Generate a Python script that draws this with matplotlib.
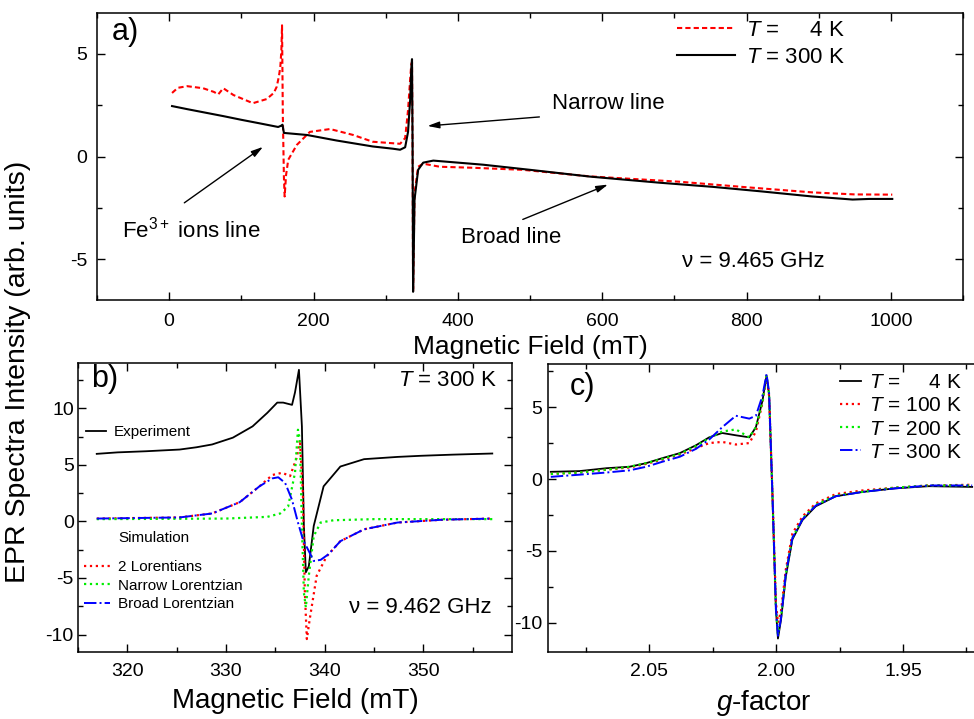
import numpy as np
import matplotlib
matplotlib.use("Agg")
import matplotlib.pyplot as plt
from matplotlib.ticker import MultipleLocator, FormatStrFormatter

plt.rcParams['font.family'] = ['Liberation Sans', 'DejaVu Sans']
plt.rcParams['mathtext.fontset'] = 'custom'
plt.rcParams['mathtext.rm'] = 'Liberation Sans'
plt.rcParams['mathtext.it'] = 'Liberation Sans:italic'
plt.rcParams['axes.unicode_minus'] = False

# --- a) wide scan, 4 K and 300 K ---
field_4k = [4, 12, 25, 47, 62, 68, 75, 89, 116, 135, 145, 149, 152, 154, 155.5, 156.4,
            157.5, 159, 160, 162, 165, 177, 195, 223, 255, 282, 320, 327, 331, 334,
            335.5, 336.5, 337.3, 338, 339, 340, 345, 352, 375, 421, 490, 583, 707,
            800, 891, 950, 1002]
epr_4k = [3.1, 3.35, 3.43, 3.33, 3.15, 3.03, 3.33, 3.0, 2.6, 2.8, 3.1, 3.4, 3.9, 4.36,
          5.2, 6.4, 2.0, -1.0, -1.95, -0.9, -0.16, 0.57, 1.2, 1.34, 1.05, 0.72, 0.62,
          0.9, 2.26, 3.8, 4.5, 4.6, 0.3, -6.6, -4.3, -1.8, -0.5, -0.35, -0.5, -0.55,
          -0.65, -0.97, -1.23, -1.5, -1.75, -1.85, -1.86]

field_300k = [4, 25, 50, 75, 100, 125, 151, 155, 157, 159, 175, 191, 232, 282, 310, 320,
              327, 331, 334, 335.5, 336.5, 337.3, 338, 339, 340, 345, 352, 366, 435,
              500, 583, 615, 680, 753, 820, 891, 947, 970, 1002]
epr_300k = [2.46, 2.31, 2.14, 1.97, 1.79, 1.62, 1.44, 1.5, 1.55, 1.15, 1.1, 1.05, 0.78,
            0.49, 0.38, 0.33, 0.45, 1.2, 2.8, 4.3, 4.75, 0.5, -6.6, -4.5, -2.1, -0.65,
            -0.3, -0.2, -0.4, -0.65, -0.98, -1.08, -1.28, -1.48, -1.7, -1.95, -2.1,
            -2.07, -2.07]

# --- b) narrow line at 300 K with two-Lorentzian fit ---
exp_field = [316.9, 319, 321.9, 325.3, 327, 328.6, 330.7, 332.7, 334.2, 335.2, 335.8,
             336.7, 337.0, 337.4, 337.7, 337.9, 338.1, 338.4, 338.9, 339.9, 341.6, 344.0,
             347.4, 349.8, 353, 357]
exp_epr = [5.97, 6.1, 6.2, 6.35, 6.55, 6.8, 7.4, 8.4, 9.6, 10.5, 10.5, 10.3, 11.4, 13.4,
           8.4, -0.4, -4.5, -3.97, -0.4, 3.1, 4.85, 5.5, 5.7, 5.8, 5.9, 6.0]

sum_field = [316.9, 325.3, 328.6, 331.4, 333.4, 334.7, 335.7, 336.5, 337.2, 337.5, 337.8,
             338.0, 338.2, 338.5, 339.2, 340.2, 341.6, 344.0, 347.4, 352, 357]
sum_epr = [0.25, 0.35, 0.7, 1.7, 3.1, 4.1, 4.3, 4.0, 5.7, 7.2, 2.5, -6.3, -10.4, -8.6,
           -4.8, -3.1, -1.75, -0.7, -0.1, 0.15, 0.25]

narrow_field = [316.9, 330, 334.2, 335.5, 336.3, 337.0, 337.3, 337.5, 337.7, 337.9, 338.1,
                338.4, 338.9, 339.6, 340.9, 345, 357]
narrow_epr = [0.2, 0.25, 0.4, 0.7, 1.3, 4.3, 8.1, 7.2, -0.4, -6.3, -7.6, -4.8, -1.3,
              -0.1, 0.1, 0.2, 0.2]

broad_field = [316.9, 325.3, 328.6, 331.4, 333.4, 334.7, 335.3, 336.0, 336.7, 337.3, 337.8,
               338.5, 338.9, 339.6, 340.4, 341.6, 344.0, 347.4, 352, 357]
broad_epr = [0.25, 0.35, 0.7, 1.7, 3.1, 3.8, 3.9, 3.4, 1.9, -0.1, -1.6, -2.8, -3.5, -3.4,
             -2.9, -1.75, -0.7, -0.1, 0.15, 0.25]

# --- c) narrow line vs g-factor at four temperatures ---
g_factor = [2.0889, 2.0776, 2.067, 2.0579, 2.0513, 2.0449, 2.038, 2.0316, 2.0264, 2.0213,
            2.0159, 2.0106, 2.008, 2.0054, 2.0038, 2.0028, 2.0015, 2.0001, 1.9993, 1.9981,
            1.9962, 1.9936, 1.9896, 1.9844, 1.9765, 1.966, 1.953, 1.9398, 1.9227]
g_4k = [0.5, 0.55, 0.75, 0.85, 1.1, 1.45, 1.8, 2.35, 2.9, 3.2, 3.04, 2.9, 3.6, 5.45, 7.2,
        5.9, -1.0, -9.1, -11.1, -9.8, -6.8, -4.2, -2.85, -1.9, -1.2, -0.9, -0.65, -0.5, -0.55]
g_100k = [0.35, 0.45, 0.65, 0.8, 1.05, 1.35, 1.7, 2.15, 2.5, 2.58, 2.4, 2.5, 3.3, 5.3, 7.1,
          5.8, -0.8, -8.6, -10.0, -9.2, -6.3, -3.8, -2.6, -1.7, -1.05, -0.8, -0.6, -0.45, -0.4]
g_200k = [0.35, 0.45, 0.65, 0.85, 1.1, 1.4, 1.75, 2.3, 2.85, 3.3, 3.45, 2.9, 3.6, 5.4, 7.2,
          5.9, -0.9, -9.0, -10.8, -9.6, -6.6, -4.1, -2.75, -1.8, -1.15, -0.9, -0.6, -0.45, -0.45]
g_300k = [0.15, 0.3, 0.45, 0.6, 0.85, 1.2, 1.55, 2.1, 2.75, 3.6, 4.4, 4.2, 4.4, 5.8, 7.3,
          6.0, -0.9, -9.0, -10.9, -9.7, -6.6, -4.1, -2.8, -1.85, -1.2, -0.9, -0.65, -0.45, -0.45]

W, H = 974, 719
fig = plt.figure(figsize=(W / 100, H / 100), dpi=100)


def px_axes(l, t, r, b):
    return fig.add_axes([l / W, 1 - b / H, (r - l) / W, (b - t) / H])


def style(ax, fs):
    ax.tick_params(which='both', direction='in', top=True, right=True, labelsize=fs)
    ax.tick_params(which='major', length=6, width=1)
    ax.tick_params(which='minor', length=3.5, width=1)
    for s in ax.spines.values():
        s.set_linewidth(1.1)


RED = '#ff0000'
GREEN = '#00ee00'
BLUE = '#0000ff'

# ---------------- a) ----------------
ax_a = px_axes(97, 13, 963, 300)
ax_a.plot(field_4k, epr_4k, color=RED, ls=(0, (2.5, 1.5)), lw=1.5, label=r'$T$ =     4 K')
ax_a.plot(field_300k, epr_300k, color='black', lw=1.5, label=r'$T$ = 300 K')
ax_a.set_xlim(-100, 1100)
ax_a.set_ylim(-7, 7)
ax_a.xaxis.set_major_locator(MultipleLocator(200))
ax_a.xaxis.set_minor_locator(MultipleLocator(100))
ax_a.yaxis.set_major_locator(MultipleLocator(5))
ax_a.yaxis.set_minor_locator(MultipleLocator(2.5))
style(ax_a, 14)
ax_a.tick_params(axis='x', pad=9)
ax_a.tick_params(axis='y', pad=7)
ax_a.set_xlabel('Magnetic Field (mT)', fontsize=19, labelpad=4)
ax_a.legend(loc='upper left', bbox_to_anchor=(0.67, 0.975), frameon=False, fontsize=16,
            handlelength=2.6, handletextpad=0.5, labelspacing=0.25, borderpad=0,
            borderaxespad=0)
ax_a.text(-79, 6.05, 'a)', fontsize=22, va='center')
ax_a.text(531, 2.6, 'Narrow line', fontsize=16, va='center')
ax_a.text(-66, -3.56, 'Fe$^{3+}$ ions line', fontsize=16, va='center')
ax_a.text(405, -3.94, 'Broad line', fontsize=16, va='center')
ax_a.text(711, -5.1, 'ν = 9.465 GHz', fontsize=16, va='center')
arrow = dict(arrowstyle='-|>,head_length=0.7,head_width=0.2', color='black', lw=1,
             shrinkA=0, shrinkB=0)
ax_a.annotate('', xy=(358, 1.49), xytext=(513, 1.93), arrowprops=arrow)
ax_a.annotate('', xy=(130, 0.47), xytext=(21, -2.26), arrowprops=arrow)
ax_a.annotate('', xy=(608, -1.37), xytext=(490, -3.07), arrowprops=arrow)

# ---------------- b) ----------------
ax_b = px_axes(78, 363, 512, 651.5)
l_exp, = ax_b.plot(exp_field, exp_epr, color='black', lw=1.3)
l_sum, = ax_b.plot(sum_field, sum_epr, color=RED, ls=':', lw=1.6)
l_nar, = ax_b.plot(narrow_field, narrow_epr, color=GREEN, ls=':', lw=1.6)
l_brd, = ax_b.plot(broad_field, broad_epr, color=BLUE, ls='-.', lw=1.4)
ax_b.set_xlim(315, 359)
ax_b.set_ylim(-11.5, 14)
ax_b.xaxis.set_major_locator(MultipleLocator(10))
ax_b.xaxis.set_minor_locator(MultipleLocator(5))
ax_b.yaxis.set_major_locator(MultipleLocator(5))
ax_b.yaxis.set_minor_locator(MultipleLocator(2.5))
style(ax_b, 14)
ax_b.tick_params(axis='x', pad=8)
ax_b.tick_params(axis='y', pad=3)
ax_b.set_xlabel('Magnetic Field (mT)', fontsize=20, labelpad=6)
leg1 = ax_b.legend([l_exp], ['Experiment'], loc='upper left', bbox_to_anchor=(0.018, 0.785),
                   frameon=False, fontsize=11, handlelength=1.3, handletextpad=0.5,
                   borderpad=0, borderaxespad=0)
ax_b.add_artist(leg1)
ax_b.legend([l_sum, l_nar, l_brd], ['2 Lorentians', 'Narrow Lorentzian', 'Broad Lorentzian'],
            loc='upper left', bbox_to_anchor=(0.014, 0.317), frameon=False, fontsize=11,
            handlelength=1.7, handletextpad=0.5, labelspacing=0.3, borderpad=0,
            borderaxespad=0)
ax_b.text(0.094, 0.393, 'Simulation', transform=ax_b.transAxes, fontsize=11, va='center')
ax_b.text(0.03, 0.945, 'b)', transform=ax_b.transAxes, fontsize=22, va='center')
ax_b.text(0.965, 0.938, r'$T$ = 300 K', transform=ax_b.transAxes, fontsize=16,
          ha='right', va='center')
ax_b.text(0.624, 0.154, 'ν = 9.462 GHz', transform=ax_b.transAxes, fontsize=16, va='center')
fig.text(0.018, 0.483, 'EPR Spectra Intensity (arb. units)', rotation=90, fontsize=20.5,
         ha='center', va='center')

# ---------------- c) ----------------
ax_c = px_axes(548, 364, 979, 651.5)
ax_c.plot(g_factor, g_4k, color='black', lw=1.3, label=r'$T$ =     4 K')
ax_c.plot(g_factor, g_100k, color=RED, ls=':', lw=1.6, label=r'$T$ = 100 K')
ax_c.plot(g_factor, g_200k, color=GREEN, ls=':', lw=1.6, label=r'$T$ = 200 K')
ax_c.plot(g_factor, g_300k, color=BLUE, ls='-.', lw=1.4, label=r'$T$ = 300 K')
ax_c.set_xlim(2.09, 1.92)
ax_c.set_ylim(-12, 8)
ax_c.xaxis.set_major_locator(MultipleLocator(0.05))
ax_c.xaxis.set_minor_locator(MultipleLocator(0.025))
ax_c.xaxis.set_major_formatter(FormatStrFormatter('%.2f'))
ax_c.yaxis.set_major_locator(MultipleLocator(5))
ax_c.yaxis.set_minor_locator(MultipleLocator(2.5))
style(ax_c, 14)
ax_c.tick_params(which='both', right=False)
ax_c.tick_params(axis='x', pad=8)
ax_c.tick_params(axis='y', pad=4)
ax_c.set_xlabel('$g$-factor', fontsize=20, labelpad=6)
ax_c.legend(loc='upper right', bbox_to_anchor=(0.96, 0.968), frameon=False, fontsize=15,
            handlelength=1.0, handletextpad=0.4, labelspacing=0.2, borderpad=0,
            borderaxespad=0)
ax_c.text(0.05, 0.92, 'c)', transform=ax_c.transAxes, fontsize=22, va='center')

fig.savefig('out.png', dpi=100)
